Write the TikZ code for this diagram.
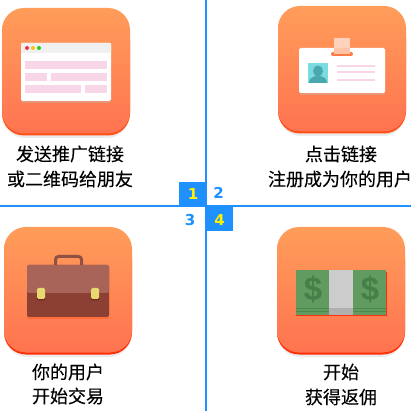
\documentclass[tikz,border=0pt]{standalone}
\usepackage{fontspec}
\setmainfont[FakeBold=0.12]{Noto Sans CJK SC}
\newfontfamily\numfont{DejaVu Sans}
\newfontfamily\dollarfont{Liberation Sans}
\definecolor{axisblue}{HTML}{1E90FF}
\definecolor{tiletop}{HTML}{FF9D5A}
\definecolor{tilebot}{HTML}{FF7350}
\definecolor{edgeA}{HTML}{FF4F14}
\definecolor{edgeB}{HTML}{FF2E05}
\definecolor{pinkbar}{HTML}{F7D6E7}
\definecolor{moneygreen}{HTML}{619B60}
\definecolor{moneydark}{HTML}{467F47}
\definecolor{moneyline}{HTML}{4C8A4A}
\definecolor{moneyred}{HTML}{FF3010}
\definecolor{bandlight}{HTML}{CCCCCC}
\definecolor{banddark}{HTML}{B0B0B0}
\definecolor{slot}{HTML}{FF7B45}
\definecolor{straptop}{HTML}{FFD2BC}
\definecolor{strapbot}{HTML}{FFC4A8}
\definecolor{photo}{HTML}{7ADBE0}
\definecolor{person}{HTML}{48A8AC}
\definecolor{handle}{HTML}{8F5045}
\definecolor{caselow}{HTML}{8C4034}
\definecolor{caseup}{HTML}{A86459}
\definecolor{clasp}{HTML}{E8D870}
\definecolor{claspsh}{HTML}{6E2E22}
\definecolor{dotr}{HTML}{EE3344}
\definecolor{doty}{HTML}{FFC010}
\definecolor{dotg}{HTML}{22CC22}
\tikzset{
  caption/.style={font=\fontsize{18}{18}\selectfont,text=black,inner sep=0pt,anchor=center},
  stepnum/.style={font=\numfont\bfseries\fontsize{15}{15}\selectfont,inner sep=0pt,anchor=center},
  stepbox/.style={fill=axisblue,draw=none},
  axisline/.style={draw=axisblue,line width=2pt},
  pinkfill/.style={fill=pinkbar,draw=none},
  dollar/.style={font=\dollarfont\bfseries\fontsize{33}{33}\selectfont,text=moneydark,inner sep=0pt},
}
% tile: x0, y0 (top left), edge colour
\newcommand{\orangetile}[3]{%
  \fill[black!8,rounded corners=22pt] (#1+1,#2+12) rectangle (#1+127,#2+130);
  \fill[#3,rounded corners=22pt] (#1,#2+10) rectangle (#1+128,#2+127.5);
  \shade[top color=tiletop,bottom color=tilebot,rounded corners=22pt] (#1,#2) rectangle (#1+128,#2+125.5);
}
\begin{document}
\begin{tikzpicture}[x=1pt,y=-1pt]
\useasboundingbox (0,0) rectangle (412,411);
\fill[white] (0,0) rectangle (412,411);

% axes
\coordinate (vtop) at (206,0);
\coordinate (vbot) at (206,411);
\coordinate (hleft) at (0,206);
\coordinate (hright) at (411,206);
\draw[axisline] (vtop) -- (vbot);
\draw[axisline] (hleft) -- (hright);

% step numbers
\fill[stepbox] (179,182) rectangle (207,207);
\fill[stepbox] (206,206) rectangle (233,231);
\node[stepnum,text=yellow] (n1) at (193,194.5) {1};
\node[stepnum,text=axisblue] (n2) at (218.5,193) {2};
\node[stepnum,text=axisblue] (n3) at (190,220) {3};
\node[stepnum,text=yellow] (n4) at (219.5,220) {4};

% tile 1: browser window
\orangetile{2}{8}{edgeA}
\fill[black!25,opacity=.35,rounded corners=1.5pt] (21,44) rectangle (111,103);
\fill[white,rounded corners=1.5pt] (21,43) rectangle (111,101);
\fill[black!6,rounded corners=1pt] (21,43) rectangle (111,53);
\fill[dotr] (27,48) circle (2);
\fill[doty] (33,48) circle (2);
\fill[dotg] (39,48) circle (2);
\fill[pinkfill] (25,61) rectangle (107,69);
\fill[pinkfill] (25,73) rectangle (47,81);
\fill[pinkfill] (51,73) rectangle (107,81);
\fill[pinkfill] (25,85) rectangle (81,93);
\fill[pinkfill] (85,85) rectangle (107,93);
\node[caption] (c1a) at (70,154) {发送推广链接};
\node[caption] (c1b) at (70,179) {或二维码给朋友};

% tile 2: ID card
\orangetile{278}{6}{edgeA}
\fill[black!25,opacity=.35,rounded corners=1.5pt] (299,49) rectangle (385,95);
\fill[white,rounded corners=1.5pt] (299,48) rectangle (385,93);
\fill[slot,rounded corners=2pt] (331,52) rectangle (353,56);
\fill[straptop] (334,38) rectangle (350,48);
\fill[strapbot] (334,48) rectangle (350,54);
\fill[photo] (308,63) rectangle (328,83);
\begin{scope}
\clip (308,63) rectangle (328,83);
\fill[person] (318,71) ellipse (5 and 5.5);
\fill[person] (309,83) .. controls (309,77) and (314,77) .. (318,75) .. controls (322,77) and (327,77) .. (327,83) -- cycle;
\end{scope}
\fill[pinkfill] (337,65) rectangle (375,67);
\fill[pinkfill] (337,71.5) rectangle (375,73.5);
\fill[pinkfill] (337,79) rectangle (375,81);
\node[caption] (c2a) at (341,154) {点击链接};
\node[caption] (c2b) at (340,179) {注册成为你的用户};

% tile 3: briefcase
\orangetile{4}{227}{edgeB}
\draw[handle,line width=3pt,rounded corners=3pt] (55.5,266) -- (55.5,256.5) -- (81.5,256.5) -- (81.5,266);
\fill[edgeA,opacity=.4,rounded corners=2pt] (27,266) rectangle (109,319);
\fill[caselow,rounded corners=2pt] (27,265) rectangle (109,317);
\fill[caseup,rounded corners=1.5pt] (27,265) rectangle (109,293);
\fill[claspsh,rounded corners=1pt] (37,289) rectangle (45,300.5);
\fill[claspsh,rounded corners=1pt] (91,289) rectangle (99,300.5);
\fill[clasp,rounded corners=1.5pt] (37,288) rectangle (45,299);
\fill[clasp,rounded corners=1.5pt] (91,288) rectangle (99,299);
\node[caption] (c3a) at (68,372) {你的用户};
\node[caption] (c3b) at (68,396) {开始交易};

% tile 4: banknotes
\orangetile{277}{227}{edgeB}
\fill[moneyred] (296,272) rectangle (387,316);
\fill[moneygreen] (296,270) rectangle (386,315);
\fill[bandlight] (329,270) rectangle (353,308);
\fill[banddark] (329,308) rectangle (353,315);
\fill[moneyline] (296,308) rectangle (329,309);
\fill[moneyline] (353,308) rectangle (386,309);
\fill[moneyline] (296,311.5) rectangle (329,312.5);
\fill[moneyline] (353,311.5) rectangle (386,312.5);
\node[dollar] (d1) at (313,289) {\$};
\node[dollar] (d2) at (370,289) {\$};
\node[caption] (c4a) at (341,372) {开始};
\node[caption] (c4b) at (341,397) {获得返佣};
\end{tikzpicture}
\end{document}
